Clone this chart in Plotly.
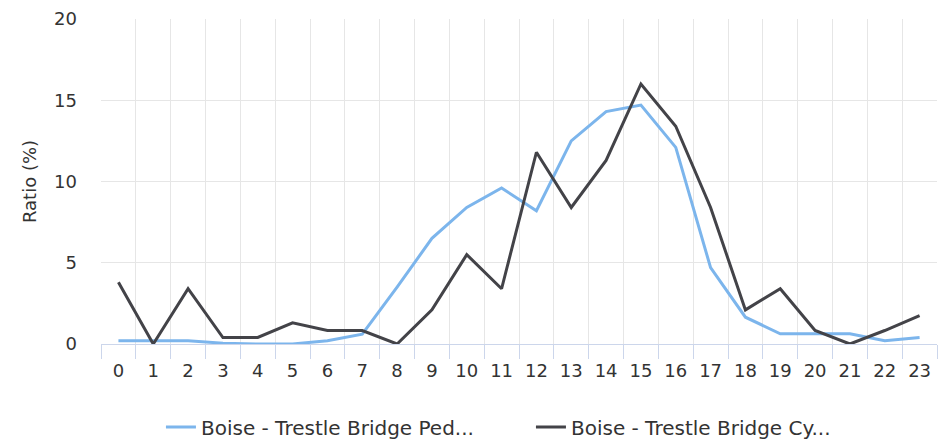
import plotly.graph_objects as go

hours = list(range(24))
hour_labels = [str(h) for h in hours]

pedestrian = [0.2, 0.2, 0.2, 0.05, 0.0, 0.0, 0.2, 0.6, 3.5, 6.5, 8.4, 9.6, 8.2,
              12.5, 14.3, 14.7, 12.1, 4.7, 1.65, 0.63, 0.63, 0.63, 0.2, 0.4]
cyclist = [3.8, 0.0, 3.4, 0.4, 0.4, 1.3, 0.83, 0.83, 0.0, 2.1, 5.5, 3.4, 11.8,
           8.4, 11.3, 16.0, 13.4, 8.4, 2.1, 3.4, 0.83, 0.0, 0.83, 1.75]

names = ["Boise - Trestle Bridge Ped...", "Boise - Trestle Bridge Cy..."]
colors = ["#7cb5ec", "#434348"]

font = "DejaVu Sans, sans-serif"

fig = go.Figure()
for name, vals, col in zip(names, [pedestrian, cyclist], colors):
    fig.add_trace(go.Scatter(x=hours, y=vals, mode="lines", name=name,
                             line=dict(color=col, width=3)))

# page body has an 8px margin, so the figure is placed with that offset
fig.update_layout(
    width=950, height=441,
    margin=dict(l=93, r=21, t=11, b=105, autoexpand=False),
    paper_bgcolor="white", plot_bgcolor="white",
    font=dict(family=font, size=18, color="#333333"),
    showlegend=True,
    legend=dict(orientation="h", xref="container", x=0.161, xanchor="left",
                yref="container", y=0.05, yanchor="middle",
                font=dict(size=20, color="#333333"), itemwidth=30,
                entrywidth=325, traceorder="normal"),
)
fig.update_xaxes(
    range=[-0.5, 23.5], automargin=False,
    tickmode="array", tickvals=hours, ticktext=hour_labels,
    showgrid=False, zeroline=False, ticks="",
    showline=True, linecolor="#ccd6eb", linewidth=1,
    tickfont=dict(size=18, color="#333333"),
    ticklabelstandoff=10,
    minor=dict(tick0=-0.5, dtick=1, showgrid=True, gridcolor="#e6e6e6", gridwidth=1,
               ticks="outside", ticklen=14, tickcolor="#ccd6eb", tickwidth=1),
)
fig.update_yaxes(
    range=[0, 20], dtick=5, tick0=0, automargin=False,
    showgrid=True, gridcolor="#e6e6e6", gridwidth=1, zeroline=False,
    tickfont=dict(size=18, color="#333333"),
    title=dict(text="Ratio (%)", font=dict(size=18, color="#333333"), standoff=12),
    ticklabelstandoff=23,
)

fig.write_html("out.html")
